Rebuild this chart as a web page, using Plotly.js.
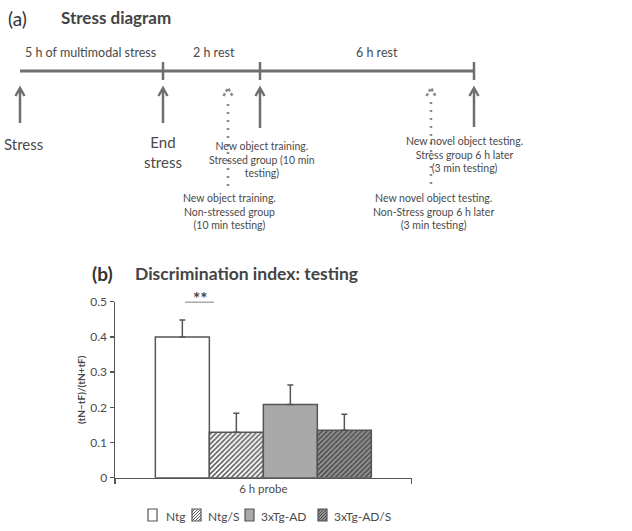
<!DOCTYPE html>
<html>
<head>
<meta charset="utf-8">
<script src="https://cdn.plot.ly/plotly-3.0.1.min.js"></script>
<style>html,body{margin:0;padding:0;background:#fff;}#chart{width:632px;height:531px;}</style>
</head>
<body>
<div id="chart"></div>
<script>
// ---------- data (panel b) ----------
const categories = ['6 h probe'];
const groups = ['Ntg', 'Ntg/S', '3xTg-AD', '3xTg-AD/S'];
const meanValues = [0.40, 0.129, 0.208, 0.135];
const semValues = [0.048, 0.054, 0.055, 0.045];
const yTicks = [0, 0.1, 0.2, 0.3, 0.4, 0.5];
const yTickLabels = ['0', '0.1', '0.2', '0.3', '0.4', '0.5'];

// ---------- diagram content (panel a) ----------
const phaseLabels = ['5 h of multimodal stress', '2 h rest', '6 h rest'];
const eventLabels = ['Stress', 'End<br>stress'];
const trainingNotes = [
  'New object training.<br>Stressed group (10 min<br>testing)',
  'New object training.<br>Non-stressed group<br>(10 min testing)',
  'New novel object testing.<br>Stress group 6 h later<br>(3 min testing)',
  'New novel object testing.<br>Non-Stress group 6 h later<br>(3 min testing)'
];

// layout geometry helpers (page pixels -> paper)
const W = 632, H = 531;
const PX = x => x / W;
const PY = y => 1 - y / H;

const FONT = 'Lato, "Open Sans", sans-serif';
const TXT = '#4a4a4a';
const LINE = '#6f6f6f';

// ---------- bar styles ----------
const styles = [
  {color: '#ffffff', hatch: null},
  {color: '#ffffff', hatch: '#5a5a5a'},
  {color: '#a9a9a9', hatch: null},
  {color: '#959595', hatch: '#4a4a4a'}
];

const traces = groups.map((g, i) => {
  const marker = {color: styles[i].color, line: {color: '#555555', width: 1.5}};
  if (styles[i].hatch) marker.pattern = {shape: '/', fgcolor: styles[i].hatch, bgcolor: styles[i].color, size: 3.5, solidity: 0.45};
  return {
    type: 'bar',
    name: g,
    x: categories,
    y: [meanValues[i]],
    marker: marker,
    error_y: {type: 'data', symmetric: false, array: [semValues[i]], arrayminus: [0],
              color: '#555555', thickness: 1.5, width: 3},
    hoverinfo: 'skip'
  };
});

const shapes = [];
const annotations = [];

// ---------- diagram (panel a) ----------
const tlY = 71;
const tlStart = 20, tlEnd = 474;
const tlMarks = [163, 260, 474];
shapes.push({type: 'line', xref: 'paper', yref: 'paper', x0: PX(tlStart), x1: PX(tlEnd), y0: PY(tlY), y1: PY(tlY),
             line: {color: LINE, width: 3}});
tlMarks.forEach(x => shapes.push({type: 'line', xref: 'paper', yref: 'paper', x0: PX(x), x1: PX(x),
             y0: PY(62), y1: PY(80), line: {color: LINE, width: 2.5}}));

const phaseX = [90, 214, 377];
phaseLabels.forEach((t, i) => annotations.push({xref: 'paper', yref: 'paper', x: PX(phaseX[i]), y: PY(52),
  text: t, showarrow: false, xanchor: 'center', yanchor: 'middle', font: {family: FONT, size: 12.5, color: TXT}}));

const solidArrowX = [20, 163, 260, 474];
const solidArrowBottom = [123, 123, 128, 127];
const dotArrowX = [228, 431];
const dotArrowBottom = [186, 184];
const tipY = 88;
function chevron(x, dash, color) {
  shapes.push({type: 'path', xref: 'paper', yref: 'paper',
    path: 'M ' + PX(x - 4.5) + ',' + PY(tipY + 8) + ' L ' + PX(x) + ',' + PY(tipY) + ' L ' + PX(x + 4.5) + ',' + PY(tipY + 8),
    line: {color: color || LINE, width: 2.5, dash: dash || 'solid'}});
}
solidArrowX.forEach((x, i) => {
  shapes.push({type: 'line', xref: 'paper', yref: 'paper', x0: PX(x), x1: PX(x), y0: PY(solidArrowBottom[i]), y1: PY(tipY + 1),
    line: {color: LINE, width: 2.5}});
  chevron(x);
});
dotArrowX.forEach((x, i) => {
  shapes.push({type: 'line', xref: 'paper', yref: 'paper', x0: PX(x), x1: PX(x), y0: PY(dotArrowBottom[i]), y1: PY(tipY + 10),
    line: {color: '#8a8a8a', width: 2.5, dash: '2px,6px'}});
  chevron(x, '3px,2px', '#8a8a8a');
});

const eventX = [23, 163];
const eventY = [144, 152];
eventLabels.forEach((t, i) => annotations.push({xref: 'paper', yref: 'paper', x: PX(eventX[i]), y: PY(eventY[i]),
  text: t, showarrow: false, xanchor: 'center', yanchor: 'middle', font: {family: FONT, size: 15, color: TXT}}));

const noteX = [262, 229, 464, 433];
const noteY = [159, 212, 155, 212];
trainingNotes.forEach((t, i) => annotations.push({xref: 'paper', yref: 'paper', x: PX(noteX[i]), y: PY(noteY[i]),
  text: t, showarrow: false, xanchor: 'center', yanchor: 'middle',
  font: {family: FONT, size: 10.5, color: TXT}}));

// panel titles
annotations.push({xref: 'paper', yref: 'paper', x: PX(6), y: PY(18), xanchor: 'left', yanchor: 'middle', showarrow: false,
  text: '(a)', font: {family: FONT, size: 19, color: '#333'}});
annotations.push({xref: 'paper', yref: 'paper', x: PX(59), y: PY(17), xanchor: 'left', yanchor: 'middle', showarrow: false,
  text: '<b>Stress diagram</b>', font: {family: FONT, size: 17, color: '#444'}});
annotations.push({xref: 'paper', yref: 'paper', x: PX(90), y: PY(273), xanchor: 'left', yanchor: 'middle', showarrow: false,
  text: '<b>(b)</b>', font: {family: FONT, size: 19, color: '#333'}});
annotations.push({xref: 'paper', yref: 'paper', x: PX(133), y: PY(273), xanchor: 'left', yanchor: 'middle', showarrow: false,
  text: '<b>Discrimination index: testing</b>', font: {family: FONT, size: 17.5, color: '#444'}});

// significance marker
annotations.push({xref: 'paper', yref: 'paper', x: PX(199.5), y: PY(298), showarrow: false, xanchor: 'center', yanchor: 'middle',
  text: '<b>**</b>', font: {family: FONT, size: 17, color: '#444'}});
shapes.push({type: 'line', xref: 'x', yref: 'y', x0: -0.264, x1: -0.166, y0: 0.5, y1: 0.5, line: {color: '#555', width: 1.5}});

// ---------- legend (drawn manually for compact spacing) ----------
const legIconX = [148, 192, 245, 318];
const legTextX = [164, 206, 259, 332];
const legY = 515, iconW = 9, iconH = 12;
groups.forEach((g, i) => {
  const x0 = legIconX[i], y0 = legY - iconH / 2, y1 = legY + iconH / 2;
  shapes.push({type: 'rect', xref: 'paper', yref: 'paper', x0: PX(x0), x1: PX(x0 + iconW), y0: PY(y1), y1: PY(y0),
    fillcolor: styles[i].color, line: {color: '#555', width: 1.2}});
  if (styles[i].hatch) {
    let p = '';
    for (let k = -iconH; k < iconW; k += 3) {
      const tmin = Math.max(0, -k), tmax = Math.min(iconH, iconW - k);
      if (tmin < tmax) {
        p += 'M ' + PX(x0 + k + tmin) + ',' + PY(y1 - tmin) + ' L ' + PX(x0 + k + tmax) + ',' + PY(y1 - tmax) + ' ';
      }
    }
    shapes.push({type: 'path', xref: 'paper', yref: 'paper', path: p, line: {color: styles[i].hatch, width: 1}});
  }
  annotations.push({xref: 'paper', yref: 'paper', x: PX(legTextX[i]), y: PY(legY + 1), xanchor: 'left', yanchor: 'middle',
    showarrow: false, text: g, font: {family: FONT, size: 12, color: TXT}});
});

const layout = {
  width: W, height: H,
  margin: {l: 0, r: 0, t: 0, b: 0},
  paper_bgcolor: '#fff', plot_bgcolor: '#fff',
  showlegend: false,
  barmode: 'group', bargap: 0.272, bargroupgap: 0,
  font: {family: FONT, color: TXT},
  xaxis: {
    domain: [PX(115), PX(411.7)], anchor: 'y', type: 'category', range: [-0.5, 0.5],
    showline: true, linecolor: '#555', linewidth: 1.5, ticks: 'outside', tickson: 'boundaries',
    ticklen: 5, tickcolor: '#555', tickwidth: 1.5, showgrid: false, zeroline: false,
    tickfont: {family: FONT, size: 11.5, color: TXT}
  },
  yaxis: {
    domain: [PY(477.7), PY(301.7)], anchor: 'x', range: [0, 0.5],
    tickvals: yTicks, ticktext: yTickLabels,
    showline: true, linecolor: '#555', linewidth: 1.5, ticks: 'outside', ticklen: 4,
    tickcolor: '#555', tickwidth: 1.5, showgrid: false, zeroline: false,
    tickfont: {family: FONT, size: 12, color: TXT},
    title: {text: '<b>(tN\u2212tF)/(tN+tF)</b>', font: {family: FONT, size: 10, color: TXT}, standoff: 3}
  },
  shapes: shapes,
  annotations: annotations
};

Plotly.newPlot('chart', traces, layout, {displayModeBar: false, staticPlot: true});
</script>
</body>
</html>
